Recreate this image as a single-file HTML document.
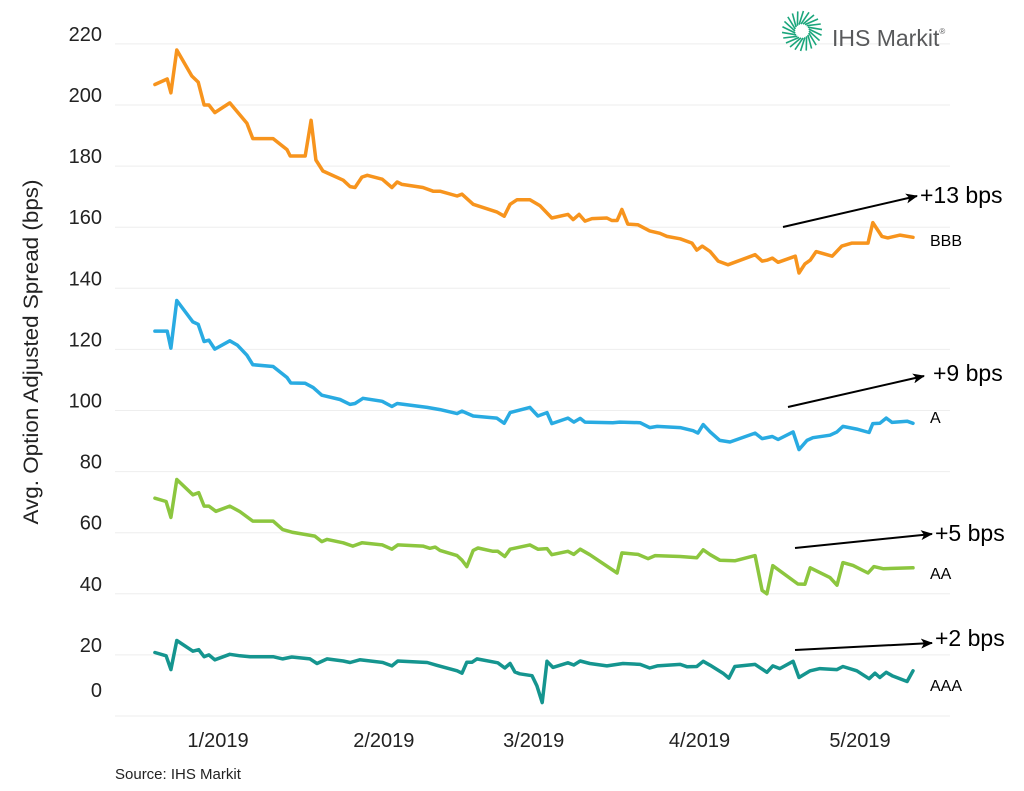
<!DOCTYPE html>
<html><head><meta charset="utf-8"><style>
body{margin:0;background:#fff;width:1024px;height:786px;overflow:hidden;font-family:"Liberation Sans",sans-serif}
</style></head><body>
<svg id="chart" width="1024" height="786" xmlns="http://www.w3.org/2000/svg">
<g id="grid"></g>
<g id="yt"></g>
<g id="xt"></g>
<g id="lines"></g>
<text transform="translate(38,352) rotate(-90)" text-anchor="middle" font-family="'Liberation Sans Narrow','Liberation Sans',sans-serif" font-size="21" textLength="345" lengthAdjust="spacingAndGlyphs" fill="#222">Avg. Option Adjusted Spread (bps)</text>
<text x="115" y="779" font-size="15" fill="#222">Source: IHS Markit</text>
<g>
<g id="burst"></g>
<text x="832" y="46" font-size="23" fill="#58595b">IHS Markit<tspan font-size="8" dy="-12">®</tspan></text>
</g>
<defs><marker id="ah" markerWidth="12" markerHeight="10" refX="11" refY="5" orient="auto" markerUnits="userSpaceOnUse"><path d="M0,0 L12,5 L0,10 L3,5z" fill="#000"/></marker></defs>
<g>
<line x1="783" y1="227" x2="917" y2="196" stroke="#000" stroke-width="2" marker-end="url(#ah)"/>
<text x="920" y="203" font-size="23" fill="#000">+13 bps</text>
<line x1="788" y1="407" x2="924" y2="376" stroke="#000" stroke-width="2" marker-end="url(#ah)"/>
<text x="933" y="381" font-size="23" fill="#000">+9 bps</text>
<line x1="795" y1="548" x2="932" y2="534" stroke="#000" stroke-width="2" marker-end="url(#ah)"/>
<text x="935" y="541" font-size="23" fill="#000">+5 bps</text>
<line x1="795" y1="650" x2="932" y2="643" stroke="#000" stroke-width="2" marker-end="url(#ah)"/>
<text x="935" y="646" font-size="23" fill="#000">+2 bps</text>
<text x="930" y="246" font-size="16" fill="#000">BBB</text>
<text x="930" y="423" font-size="16" fill="#000">A</text>
<text x="930" y="579" font-size="16" fill="#000">AA</text>
<text x="930" y="691" font-size="16" fill="#000">AAA</text>
</g>
</svg>
<script>
const yTicks=[0,20,40,60,80,100,120,140,160,180,200,220];
const xTickLabels=["1/2019","2/2019","3/2019","4/2019","5/2019"];
const xTickDays=[0,31,59,90,120];
// days relative to Jan 1 2019
const bbbDays=[-11.8,-9.5,-8.8,-7.7,-4.9,-3.7,-2.6,-1.7,-0.6,2.2,5.4,6.5,10.3,12.9,13.5,16.3,17.4,18.3,19.6,23.4,24.7,25.6,26.9,27.9,30.7,32.5,33.5,34.4,38.3,40.2,41.5,44.7,45.6,47.7,52.1,53.5,54.6,55.9,58.3,60.2,62.4,65.4,66.4,67.5,68.6,69.9,72.7,73.6,74.6,75.5,76.6,78.5,80.7,82.6,83.9,86.4,88.6,89.5,90.5,92,93.5,95.3,100.4,101.7,102.6,103.6,104.7,107.9,108.6,109.7,110.7,111.8,114.8,116.6,118.5,121.5,122.4,124.1,125.2,127.5,129.9];
const bbbVals=[206.7,208.5,204,218,209.5,207.5,200,200,197.5,200.7,194,189,189,185.4,183.3,183.3,195,182,178.4,175.4,173.3,173,176.4,177,175.7,173,174.8,174,173,171.8,171.8,170.2,170.8,167.5,165,163.6,167.5,169,169,167,163,164.2,162.5,164.2,162,162.8,163,162.2,162.2,165.8,161,160.8,158.8,158,157,156.2,154.8,152.5,153.8,152,148.9,147.7,151,148.9,149.2,149.9,148.5,150.5,145,148,149.2,152,150.5,153.8,154.8,154.8,161.5,157,156.5,157.4,156.7];
const aDays=[-11.8,-9.5,-8.8,-7.7,-4.7,-3.7,-2.6,-1.7,-0.6,2.2,3.6,5.4,6.5,10.3,12.9,13.6,16.3,17.8,19.4,22.8,24.7,25.6,27.1,30.7,32.5,33.5,39.1,41.5,44.7,45.6,47.7,52.1,53.5,54.6,58.3,59.8,61.5,62.4,65.4,66.5,67.7,68.6,73.8,75.1,78.9,80.7,82.1,86.4,88.8,89.7,90.7,92,93.8,95.7,100.4,101.7,103.6,104.7,107.5,108.6,110.1,111.2,114.4,115.7,116.8,119.4,121.7,122.4,123.7,124.9,126,128.8,129.9];
const aVals=[126,126,120.4,136,129,128.2,122.6,123,120.1,122.8,121.4,118.1,115,114.4,110.8,109,108.9,107.5,105,103.6,102,102.3,104,103,101.3,102.3,101,100.3,99,99.8,98.2,97.5,95.8,99.3,101,98.2,99.3,95.7,97.5,96.2,97.4,96.2,96,96.2,96,94.4,94.8,94.4,93.4,92.6,95.4,93,90.2,89.7,92.6,90.8,91.5,90.5,93,87.2,90.2,91.1,91.9,93,94.8,93.9,92.8,95.7,95.8,97.5,96.1,96.5,95.8];
const aaDays=[-11.8,-9.7,-8.8,-7.7,-4.7,-3.6,-2.6,-1.7,-0.4,2.2,4.1,6.5,10.3,12.1,14,18.1,19.4,20.4,23.4,25.2,26.9,30.7,32.5,33.6,38.3,39.6,40.6,41.5,44.7,45.6,46.5,47.7,48.6,51.4,52.3,53.6,54.6,58.3,59.8,61.5,62.4,65.4,66.5,67.7,69.5,74.6,75.5,78.5,80.4,81.7,86.4,89.5,90.7,92,93.8,96.6,100.4,101.7,102.6,103.7,108.4,109.7,110.7,114.4,115.7,116.8,118.7,121.5,122.6,124.3,129.9];
const aaVals=[71.3,70.2,65,77.4,72.4,73.1,68.7,68.7,67,68.7,66.9,63.8,63.8,61,60.1,58.9,57.1,57.8,56.7,55.6,56.7,56,54.6,56,55.6,54.9,55.3,54.2,52.5,51,48.9,54.2,55,53.9,53.9,52.2,54.6,56,54.6,54.8,52.8,53.9,52.9,54.6,52.8,46.8,53.4,52.9,51.5,52.5,52.2,51.8,54.4,52.8,51,50.8,52.5,41.1,40,49.2,43.2,43.1,48.5,45.3,42.8,50.2,49.3,46.8,48.9,48.2,48.5];
const aaaDays=[-11.8,-9.7,-8.8,-7.7,-4.7,-3.6,-2.6,-1.7,-0.6,2.2,4.1,6,10.3,12.1,13.8,17.2,18.5,20.4,23.4,24.7,26.5,30.8,32.5,33.6,39.1,40.9,44.7,45.6,46.5,47.5,48.4,52.3,53.6,54.6,55.5,56.4,58.7,59.6,60.6,61.5,62.6,65.4,66.5,67.7,69.5,72.7,75.7,78.9,80.7,82.1,86.4,87.7,89.5,90.7,92,94.4,95.5,96.6,100.4,102.6,103.7,105,107.5,108.6,110.7,112.5,115.7,116.8,119.4,121.7,122.8,123.7,124.9,126,128.8,129.9];
const aaaVals=[20.8,19.7,15.2,24.7,21.2,21.7,19.4,20,18.4,20.2,19.7,19.4,19.4,18.7,19.3,18.7,17.2,18.7,18,17.5,18.4,17.5,16.4,18,17.5,16.6,14.8,14,17.6,17.6,18.7,17.4,15.7,17.2,14.4,13.8,13.2,9.9,4.4,17.9,15.9,17.4,16.7,18,17.2,16.4,17.2,16.9,15.7,16.4,16.9,16.1,16.2,17.9,16.6,14,12.4,16.2,16.9,14.3,16.4,15.5,17.9,12.6,14.8,15.5,15.2,16.2,14.8,12.2,14,12.6,14.3,13.2,11.3,14.8];

const NS="http://www.w3.org/2000/svg";
const x=d=>218+d*5.35;
const y=v=>716-v*3.055;
function mk(tag,attrs,parent){const e=document.createElementNS(NS,tag);for(const k in attrs)e.setAttribute(k,attrs[k]);parent.appendChild(e);return e;}
const grid=document.getElementById('grid'),yt=document.getElementById('yt'),xt=document.getElementById('xt'),lines=document.getElementById('lines');
yTicks.forEach(v=>{
  const l=mk('line',{x1:115,x2:950,y1:y(v),y2:y(v),stroke:'#eeeeee','stroke-width':1},grid);
  
  
  const t=mk('text',{x:102,y:y(v)-(v===0?19:3),'text-anchor':'end','font-size':20,fill:'#222'},yt);
  
  
  t.textContent=v;
});
xTickLabels.forEach((s,i)=>{
  const t=mk('text',{x:x(xTickDays[i]),y:747,'text-anchor':'middle','font-size':20,fill:'#222'},xt);
  
  
  t.textContent=s;
});
function series(days,vals,color,name){
  const d=days.map((dd,i)=>(i?'L':'M')+x(dd).toFixed(1)+','+y(vals[i]).toFixed(1)).join('');
  const p=mk('path',{d:d,fill:'none',stroke:color,'stroke-width':3.5,'stroke-linejoin':'round','stroke-linecap':'round'},lines);
  
  
}
series(bbbDays,bbbVals,'#f7941d','line-bbb');
series(aDays,aVals,'#29abe2','line-a');
series(aaDays,aaVals,'#8cc63f','line-aa');
series(aaaDays,aaaVals,'#15958f','line-aaa');
// logo starburst
const b=document.getElementById('burst');
for(let i=0;i<22;i++){
  const a=(i/22)*Math.PI*2;
  const r1=7,r2=20,cx=802,cy=31;
  const l=mk('line',{x1:cx+r1*Math.cos(a),y1:cy+r1*Math.sin(a),x2:cx+r2*Math.cos(a+0.5),y2:cy+r2*Math.sin(a+0.5),stroke:'#1ba67c','stroke-width':1.6},b);
  
  
}
</script>
</body></html>
